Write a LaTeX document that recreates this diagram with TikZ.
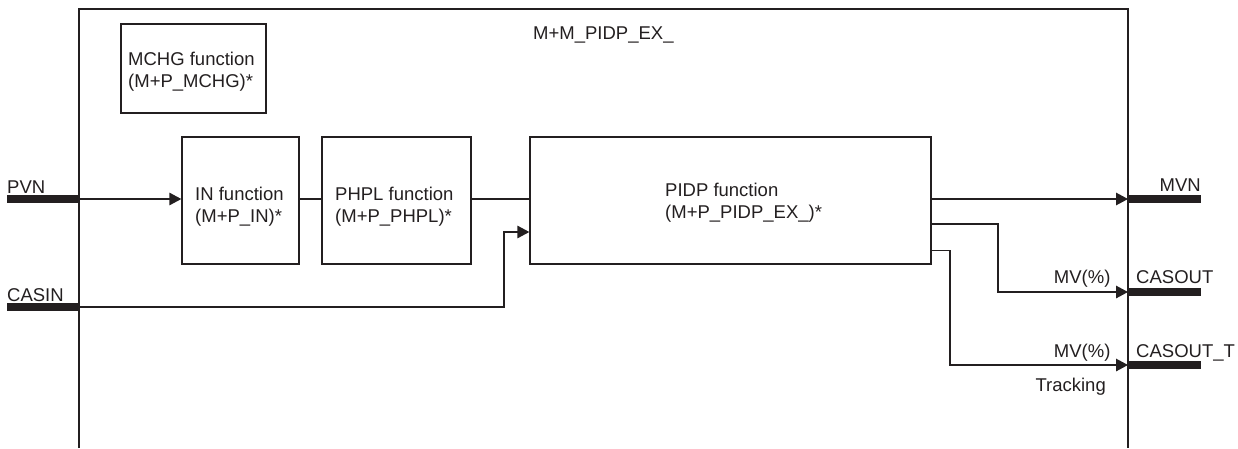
\documentclass[tikz,border=0pt]{standalone}
\usepackage{fontspec}
\setmainfont{Liberation Sans}
\usetikzlibrary{arrows.meta,calc}
\definecolor{ink}{HTML}{231F20}
\begin{document}
\begin{tikzpicture}[x=1pt,y=-1pt,
  every node/.style={font=\fontsize{18.5}{22}\selectfont, text=ink, inner sep=0pt},
  fbox/.style={draw=ink, line width=1.3pt, minimum width=#1},
  lbl/.style={align=left},
  wire/.style={draw=ink, line width=1.3pt},
  arr/.style={wire, -{Triangle[length=12pt,width=12.5pt]}},
  bar/.style={draw=ink, line width=7.3pt}]
\useasboundingbox (0,0) rectangle (1238,448);
% frame
\draw[wire] (79,448) -- (79,9) -- (1128,9) -- (1128,448);
\node[anchor=base west] (title) at (533,39.5) {M+M\_PIDP\_EX\_};
% boxes
\node[fbox=145, minimum height=89] (mchg) at (193.5,68.5) {};
\node[lbl, anchor=west] (mchgt) at (128,72) {MCHG function\\(M+P\_MCHG)*};
\node[fbox=117, minimum height=127] (in) at (240.5,200.5) {};
\node[lbl, anchor=west] (int) at (195,206.5) {IN function\\(M+P\_IN)*};
\node[fbox=149, minimum height=127] (phpl) at (396.5,200.5) {};
\node[lbl, anchor=west] (phplt) at (335,206.5) {PHPL function\\(M+P\_PHPL)*};
\node[fbox=401, minimum height=127] (pidp) at (730.5,200.5) {};
\node[lbl, anchor=west] (pidpt) at (665,202.5) {PIDP function\\(M+P\_PIDP\_EX\_)*};
% left bars
\coordinate (pvnL) at (7,199);
\coordinate (pvnR) at (79,199);
\coordinate (casL) at (7,307);
\coordinate (casR) at (79,307);
\draw[bar] (pvnL) -- (pvnR);
\draw[bar] (casL) -- (casR);
\node[anchor=base west] (pvn) at (7,193.4) {PVN};
\node[anchor=base west] (casin) at (7,301.7) {CASIN};
% right bars
\coordinate (mvnL) at (1128,199);
\coordinate (mvnR) at (1201,199);
\coordinate (coL) at (1128,292);
\coordinate (coR) at (1201,292);
\coordinate (ctL) at (1128,365);
\coordinate (ctR) at (1201,365);
\draw[bar] (mvnL) -- (mvnR);
\draw[bar] (coL) -- (coR);
\draw[bar] (ctL) -- (ctR);
\node[anchor=base east] (mvn) at (1201,191.7) {MVN};
\node[anchor=base west] (casout) at (1136,283.3) {CASOUT};
\node[anchor=base east] (mv1) at (1110.7,283.3) {MV(\%)};
\node[anchor=base west] (casoutt) at (1136,357.7) {CASOUT\_T};
\node[anchor=base east] (mv2) at (1110.7,357.7) {MV(\%)};
\node[anchor=base east] (trk) at (1106,391.7) {Tracking};
% connectors
\draw[arr] (pvnR) -- (pvnR -| in.west);
\draw[wire] (in.east |- pvnR) -- (phpl.west |- pvnR);
\draw[wire] (phpl.east |- pvnR) -- (pidp.west |- pvnR);
\coordinate (cj) at (504,232);
\draw[arr] (casR) -| (cj) -- (cj -| pidp.west);
\draw[arr] (pidp.east |- mvnL) -- (mvnL);
\coordinate (o2) at (931,224);
\coordinate (j2) at (998,292);
\draw[arr] (o2) -| (j2) -- (coL);
\coordinate (o3) at (931,250.5);
\coordinate (j3) at (950,365);
\draw[arr] (o3) -| (j3) -- (ctL);
\end{tikzpicture}
\end{document}
